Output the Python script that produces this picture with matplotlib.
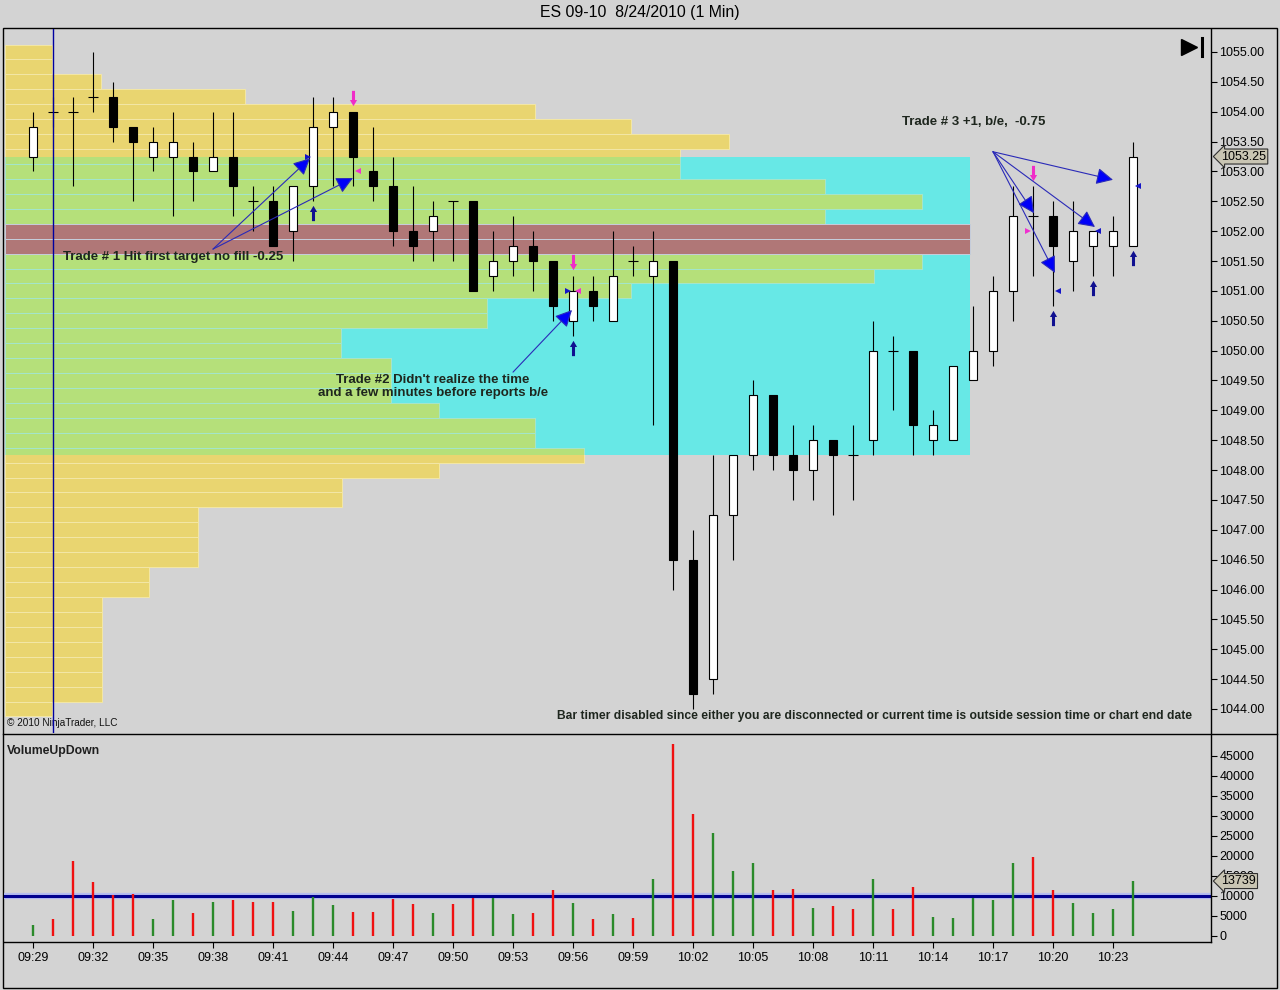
import matplotlib
matplotlib.use("Agg")
import matplotlib.pyplot as plt
import matplotlib.transforms as mtransforms
from matplotlib import font_manager
from matplotlib.patches import Rectangle
from matplotlib.path import Path
from matplotlib.lines import Line2D
import numpy as np

plt.rcParams['font.family'] = ['Liberation Sans', 'DejaVu Sans']

# ES 09-10, 24 Aug 2010, 1 minute bars
times = ['09:29', '09:30', '09:31', '09:32', '09:33', '09:34', '09:35', '09:36',
         '09:37', '09:38', '09:39', '09:40', '09:41', '09:42', '09:43', '09:44',
         '09:45', '09:46', '09:47', '09:48', '09:49', '09:50', '09:51', '09:52',
         '09:53', '09:54', '09:55', '09:56', '09:57', '09:58', '09:59', '10:00',
         '10:01', '10:02', '10:03', '10:04', '10:05', '10:06', '10:07', '10:08',
         '10:09', '10:10', '10:11', '10:12', '10:13', '10:14', '10:15', '10:16',
         '10:17', '10:18', '10:19', '10:20', '10:21', '10:22', '10:23', '10:24']
opens = [1053.25, 1054.00, 1054.00, 1054.25, 1054.25, 1053.75, 1053.25, 1053.25,
         1053.25, 1053.00, 1053.25, 1052.50, 1052.50, 1052.00, 1052.75, 1053.75,
         1054.00, 1053.00, 1052.75, 1052.00, 1052.00, 1052.50, 1052.50, 1051.25,
         1051.50, 1051.75, 1051.50, 1050.50, 1051.00, 1050.50, 1051.50, 1051.25,
         1051.50, 1046.50, 1044.50, 1047.25, 1048.25, 1049.25, 1048.25, 1048.00,
         1048.50, 1048.25, 1048.50, 1050.00, 1050.00, 1048.50, 1048.50, 1049.50,
         1050.00, 1051.00, 1052.25, 1052.25, 1051.50, 1051.75, 1051.75, 1051.75]
highs = [1054.00, 1054.25, 1054.25, 1055.00, 1054.50, 1053.75, 1053.75, 1054.00,
         1053.50, 1054.00, 1054.00, 1052.75, 1052.75, 1052.75, 1054.25, 1054.25,
         1054.00, 1053.75, 1053.25, 1052.75, 1052.50, 1052.50, 1052.50, 1052.00,
         1052.25, 1052.00, 1051.50, 1051.25, 1051.25, 1052.00, 1051.75, 1052.00,
         1051.50, 1047.00, 1048.25, 1048.25, 1049.50, 1049.25, 1048.75, 1048.75,
         1048.50, 1048.75, 1050.50, 1050.25, 1050.00, 1049.00, 1049.75, 1050.75,
         1051.25, 1052.75, 1052.75, 1052.50, 1052.50, 1052.00, 1052.25, 1053.50]
lows = [1053.00, 1053.75, 1052.75, 1054.00, 1053.50, 1052.50, 1053.00, 1052.25,
        1052.50, 1053.00, 1052.25, 1052.00, 1051.75, 1051.50, 1052.50, 1052.75,
        1052.75, 1052.50, 1051.75, 1051.50, 1051.50, 1051.50, 1051.00, 1051.00,
        1051.25, 1051.00, 1050.50, 1050.25, 1050.50, 1050.50, 1051.25, 1048.75,
        1046.00, 1044.00, 1044.25, 1046.50, 1048.00, 1048.00, 1047.50, 1047.50,
        1047.25, 1047.50, 1048.25, 1049.00, 1048.25, 1048.25, 1048.50, 1049.50,
        1049.75, 1050.50, 1051.25, 1050.75, 1051.00, 1051.25, 1051.25, 1051.75]
closes = [1053.75, 1054.00, 1054.00, 1054.25, 1053.75, 1053.50, 1053.50, 1053.50,
          1053.00, 1053.25, 1052.75, 1052.50, 1051.75, 1052.75, 1053.75, 1054.00,
          1053.25, 1052.75, 1052.00, 1051.75, 1052.25, 1052.50, 1051.00, 1051.50,
          1051.75, 1051.50, 1050.75, 1051.00, 1050.75, 1051.25, 1051.50, 1051.50,
          1046.50, 1044.25, 1047.25, 1048.25, 1049.25, 1048.25, 1048.00, 1048.50,
          1048.25, 1048.25, 1050.00, 1050.00, 1048.75, 1048.75, 1049.75, 1050.00,
          1051.00, 1052.25, 1052.25, 1051.75, 1052.00, 1052.00, 1052.00, 1053.25]
volumes = [2750, 4300, 18800, 13500, 10300, 10500, 4300, 9100, 5800, 8600,
           9100, 8600, 8600, 6300, 9800, 7800, 6100, 6100, 9300, 8100,
           5800, 8100, 9600, 9600, 5600, 5800, 11600, 8300, 4300, 5600,
           4600, 14300, 48000, 30600, 25800, 16300, 18300, 11600, 11800, 7100,
           7600, 6800, 14300, 6800, 12300, 4800, 4600, 9600, 9100, 18300,
           19800, 11600, 8300, 5800, 6800, 13739]
volume_ref = 10000

# session volume profile (relative volume at each price)
profile_prices = [1055.00, 1054.75, 1054.50, 1054.25, 1054.00, 1053.75, 1053.50, 1053.25,
                  1053.00, 1052.75, 1052.50, 1052.25, 1052.00, 1051.75, 1051.50, 1051.25,
                  1051.00, 1050.75, 1050.50, 1050.25, 1050.00, 1049.75, 1049.50, 1049.25,
                  1049.00, 1048.75, 1048.50, 1048.25, 1048.00, 1047.75, 1047.50, 1047.25,
                  1047.00, 1046.75, 1046.50, 1046.25, 1046.00, 1045.75, 1045.50, 1045.25,
                  1045.00, 1044.75, 1044.50, 1044.25, 1044.00]
profile_vol = [47, 47, 96, 240, 530, 626, 724, 675,
               675, 820, 917, 820, 965, 965, 917, 869,
               626, 482, 482, 336, 336, 386, 386, 386,
               434, 530, 530, 579, 434, 337, 337, 193,
               193, 193, 193, 144, 144, 97, 97, 97,
               97, 97, 97, 97, 47]
value_area_high = 1053.25
value_area_low = 1048.25
poc_prices = [1052.00, 1051.75]

# executions: bar, price, side, entry/exit
exec_bars = [14, 16, 27, 27, 50, 51, 53, 55]
exec_prices = [1053.25, 1053.00, 1051.00, 1051.00, 1052.00, 1051.00, 1052.00, 1052.75]
exec_buy = [True, False, True, False, False, True, True, True]
exec_entry = [True, False, True, False, True, False, False, False]
buy_signal_bars = [14, 27, 51, 53, 55]
sell_signal_bars = [16, 27, 50]

BG = '#D3D3D3'
YELLOW = '#E9D570'
GREEN = '#B5E07A'
CYAN = '#67E8E6'
BROWN = '#B07777'

W, H = 1280, 990
fig = plt.figure(figsize=(12.8, 9.9), dpi=100, facecolor=BG)


def fx(px):
    return px / W


def fy(py):
    return 1 - py / H


n = len(times)
x = np.arange(n)
xlim = (-1.45, 58.9)
ylim = (1043.598, 1055.385)

main_rect = [fx(4), fy(733), fx(1211) - fx(4), fy(29) - fy(733)]
ax_prof = fig.add_axes(main_rect, zorder=0)
ax = fig.add_axes(main_rect, zorder=1)
ax_vol = fig.add_axes([fx(4), fy(942), fx(1211) - fx(4), fy(735) - fy(942)], zorder=1)

# ---- volume profile
ax_prof.set_xlim(-1, 1206)
ax_prof.set_ylim(*ylim)
ax_prof.set_axis_off()
va_width = max(profile_vol)
ax_prof.add_patch(Rectangle((0, value_area_low), va_width, value_area_high - value_area_low,
                            fc=CYAN, ec='none', zorder=1))
ax_prof.barh(profile_prices, profile_vol, height=0.25, left=0, color=YELLOW,
             edgecolor='#F3E7A6', linewidth=0.7, zorder=2)
clip = Rectangle((-1, value_area_low), 1210, value_area_high - value_area_low,
                 transform=ax_prof.transData)
green_bars = ax_prof.barh(profile_prices, profile_vol, height=0.25, left=0, color=GREEN,
                          edgecolor='#A3E6CC', linewidth=0.7, zorder=3)
for b in green_bars:
    b.set_clip_path(clip)
poc_vol = [profile_vol[profile_prices.index(p)] for p in poc_prices]
ax_prof.barh(poc_prices, poc_vol, height=0.25, left=0, color=BROWN,
             edgecolor='#C6CEDC', linewidth=0.7, zorder=4)

# ---- candles
ax.set_facecolor('none')
ax.set_xlim(*xlim)
ax.set_ylim(*ylim)
o = np.array(opens)
c = np.array(closes)
ax.vlines(x, lows, highs, color='black', lw=0.8, zorder=3)
body = c != o
ax.bar(x[body], np.abs(c - o)[body], bottom=np.minimum(o, c)[body], width=0.42,
       color=np.where(c > o, 'white', 'black')[body], edgecolor='black', lw=0.8, zorder=4)
ax.hlines(c[~body], x[~body] - 0.24, x[~body] + 0.24, color='black', lw=0.8, zorder=4)

ax.axvline(times.index('09:30'), color='#0000A0', lw=1, zorder=6)

# signal arrows
up_arrow = Path([(0, 1), (0.47, 0.2), (0.2, 0.2), (0.2, -1), (-0.2, -1),
                 (-0.2, 0.2), (-0.47, 0.2), (0, 1)])
down_arrow = Path([(vx, -vy) for vx, vy in up_arrow.vertices])
lo = np.array(lows)
hi = np.array(highs)
ax.plot(buy_signal_bars, lo[buy_signal_bars] - 0.2, ls='none', marker=up_arrow,
        ms=11, color='#101090', mew=0, zorder=7)
ax.plot(sell_signal_bars, hi[sell_signal_bars] + 0.23, ls='none', marker=down_arrow,
        ms=11, color='#F02CC8', mew=0, zorder=7)

# execution markers
for b, p, buy, entry in zip(exec_bars, exec_prices, exec_buy, exec_entry):
    col = '#1414C8' if buy else '#F030D0'
    if entry:
        ax.plot(b - 0.26, p, marker='>', ms=4.5, color=col, mew=0, zorder=8)
    else:
        ax.plot(b + 0.26, p, marker='<', ms=4.5, color=col, mew=0, zorder=8)

# notes
note_font = dict(family=['Liberation Sans', 'DejaVu Sans'], size=9.5, weight='bold')
arrow_kw = dict(arrowstyle='-|>,head_length=0.6,head_width=0.3', mutation_scale=17,
                fc='#0000F8', ec='#2A2AB8', lw=0.8, shrinkA=0, shrinkB=0)

ax.text(1.5, 1051.57, 'Trade # 1 Hit first target no fill -0.25', color='#1E261E',
        va='center', ha='left', zorder=9, **note_font)
for tip in [(13.85, 1053.22), (16.0, 1052.89)]:
    ax.annotate('', xy=tip, xytext=(9.0, 1051.70), arrowprops=arrow_kw, zorder=9)

ax.text(20.0, 1049.40, "Trade #2 Didn't realize the time\nand a few minutes before reports b/e",
        color='#1E261E', va='center', ha='center', linespacing=1.15, zorder=9, **note_font)
ax.annotate('', xy=(26.95, 1050.68), xytext=(24.0, 1049.64), arrowprops=arrow_kw, zorder=9)

ax.text(43.45, 1053.83, 'Trade # 3 +1, b/e,  -0.75', color='#1E261E',
        va='center', ha='left', zorder=9, **note_font)
for tip in [(54.0, 1052.86), (50.05, 1052.30), (51.1, 1051.30), (53.1, 1052.07)]:
    ax.annotate('', xy=tip, xytext=(48.0, 1053.33), arrowprops=arrow_kw, zorder=9)

ax.text(0.0025, 0.0142, '\u00a9 2010 NinjaTrader, LLC', transform=ax.transAxes,
        fontsize=7.2, va='center', ha='left', color='#101010')
ax.text(0.9843, 0.0242,
        'Bar timer disabled since either you are disconnected or current time is outside '
        'session time or chart end date', transform=ax.transAxes, color='#1E261E',
        va='center', ha='right', **dict(note_font, size=8.75))

# go-to-end icon
ax.plot([0.9818], [0.9744], marker='>', ms=11, color='black', transform=ax.transAxes,
        clip_on=False, zorder=9)
ax.add_line(Line2D([0.9925, 0.9925], [0.9615, 0.9873], color='black', lw=2.2,
                   transform=ax.transAxes))

# axes styling
for name, sp in ax.spines.items():
    sp.set_visible(name == 'right')
ax.spines['right'].set_linewidth(1)
ax.yaxis.tick_right()
ax.tick_params(bottom=False, labelbottom=False, left=False, labelleft=False,
               right=True, labelright=True)
ax.set_yticks(np.arange(1044.0, 1055.01, 0.5))
ax.yaxis.set_major_formatter(matplotlib.ticker.FormatStrFormatter('%.2f'))
ax.tick_params(axis='y', direction='out', length=4.5, width=0.8, pad=1.5, labelsize=9)

flag = dict(boxstyle='larrow,pad=0.12', fc='#C9C5B3', ec='#303030', lw=0.8)
blend = mtransforms.blended_transform_factory(ax.transAxes, ax.transData)
ax.text(1.0085, closes[-1], f'{closes[-1]:.2f}', transform=blend, fontsize=9,
        va='center', ha='left', bbox=flag, zorder=10, clip_on=False)

# ---- volume panel
ax_vol.set_facecolor('none')
ax_vol.set_xlim(*xlim)
ax_vol.set_ylim(-1500, 50250)
vol_col = np.where(c > o, '#2A8A2A', '#F01010')
ax_vol.axhline(volume_ref, color='#B4BCF0', lw=4.5, zorder=1)
ax_vol.axhline(volume_ref, color='#00008E', lw=2.2, zorder=2)
ax_vol.vlines(x, 0, volumes, colors=vol_col, lw=1.7, zorder=3)
for name, sp in ax_vol.spines.items():
    sp.set_visible(name in ('right', 'bottom'))
    sp.set_linewidth(1)
ax_vol.yaxis.tick_right()
ax_vol.set_yticks(np.arange(0, 45001, 5000))
ax_vol.set_xticks(x[::3])
ax_vol.set_xticklabels(times[::3])
ax_vol.tick_params(axis='y', direction='out', length=4.5, width=0.8, pad=1.5, labelsize=9)
ax_vol.tick_params(axis='x', direction='out', length=4.5, width=0.8, pad=3, labelsize=9)
ax_vol.text(0.0025, 0.9227, 'VolumeUpDown', transform=ax_vol.transAxes, fontsize=8.8,
            fontweight='bold', va='center', ha='left', color='#1E1E1E')
vblend = mtransforms.blended_transform_factory(ax_vol.transAxes, ax_vol.transData)
ax_vol.text(1.0085, volumes[-1], f'{volumes[-1]}', transform=vblend, fontsize=9,
            va='center', ha='left', bbox=flag, zorder=10, clip_on=False)

# ---- frame and title
fig.text(0.5, fy(13), 'ES 09-10  8/24/2010 (1 Min)', ha='center', va='center', fontsize=11.4)
fig.add_artist(Rectangle((fx(3), fy(988)), fx(1277) - fx(3), fy(28) - fy(988),
                         transform=fig.transFigure, fill=False, ec='black', lw=1))
fig.add_artist(Line2D([fx(3), fx(1277)], [fy(734), fy(734)], color='black', lw=1,
                      transform=fig.transFigure))

fig.savefig('out.png', dpi=100, facecolor=BG)
